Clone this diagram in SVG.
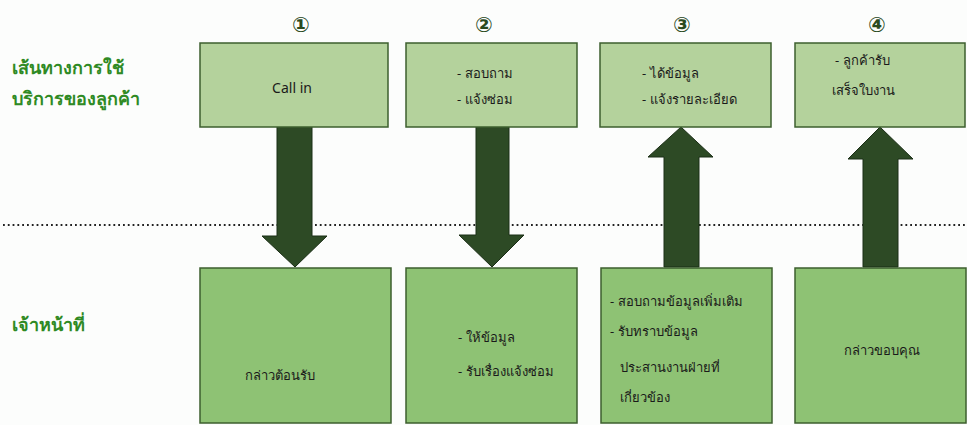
<svg xmlns="http://www.w3.org/2000/svg" width="967" height="425" viewBox="0 0 967 425">
<style>
.bg{fill:#fcfdfc}
.top{fill:#b4d29c;stroke:#3d5f2e;stroke-width:1.5}
.bot{fill:#8ec274;stroke:#3d5f2e;stroke-width:1.5}
.arr{fill:#2d4a25;stroke:#1b2e16;stroke-width:1}
.sep{stroke:#222;stroke-width:1.8;stroke-dasharray:1.8 3;fill:none}
.lbl{font-family:"Noto Sans","DejaVu Sans",sans-serif;font-weight:bold;font-size:18px;fill:#2f8a24}
.t{font-family:"Noto Sans","DejaVu Sans",sans-serif;font-size:13px;fill:#1a1a1a}
.num{font-family:"DejaVu Sans","Noto Sans CJK SC",sans-serif;font-weight:bold;font-size:21px;fill:#2a4a1e;text-anchor:middle}
.c{text-anchor:middle}
</style>
<rect class="bg" x="0" y="0" width="967" height="425"/>
<g id="connectors">
<line class="sep" x1="3" y1="225" x2="967" y2="225"/>
<polygon class="arr" points="277,126 312,126 312,236 327,236 295,267 262,236 277,236"/>
<polygon class="arr" points="476,126 509,126 509,235 524,235 492,267 459,235 476,235"/>
<polygon class="arr" points="664,267 699,267 699,157 713,157 681,127 648,157 664,157"/>
<polygon class="arr" points="863,267 898,267 898,159 913,159 880,127 848,159 863,159"/>
</g>
<g id="lane-customer">
<text class="lbl" x="12" y="74">เส้นทางการใช้</text>
<text class="lbl" x="12" y="105">บริการของลูกค้า</text>
</g>
<g id="lane-staff">
<text class="lbl" x="12" y="331">เจ้าหน้าที่</text>
</g>
<g id="step1">
<text class="num" x="301" y="32">①</text>
</g>
<g id="step2">
<text class="num" x="484" y="32">②</text>
</g>
<g id="step3">
<text class="num" x="682" y="32">③</text>
</g>
<g id="step4">
<text class="num" x="877" y="32">④</text>
</g>
<g id="c1">
<rect class="top" x="200" y="43" width="188" height="84"/>
<text class="t c" x="292" y="93" style="font-size:14px">Call in</text>
</g>
<g id="c2">
<rect class="top" x="406" y="43" width="171" height="84"/>
<text class="t" x="457" y="78">- สอบถาม</text>
<text class="t" x="457" y="104">- แจ้งซ่อม</text>
</g>
<g id="c3">
<rect class="top" x="600" y="43" width="171" height="84"/>
<text class="t" x="642" y="78">- ได้ข้อมูล</text>
<text class="t" x="642" y="104">- แจ้งรายละเอียด</text>
</g>
<g id="c4">
<rect class="top" x="795" y="43" width="170" height="84"/>
<text class="t" x="835" y="65">- ลูกค้ารับ</text>
<text class="t" x="832" y="95">เสร็จใบงาน</text>
</g>
<g id="s1">
<rect class="bot" x="200" y="268" width="191" height="155"/>
<text class="t c" x="280" y="380">กล่าวต้อนรับ</text>
</g>
<g id="s2">
<rect class="bot" x="406" y="268" width="171" height="155"/>
<text class="t" x="458" y="342">- ให้ข้อมูล</text>
<text class="t" x="458" y="376">- รับเรื่องแจ้งซ่อม</text>
</g>
<g id="s3">
<rect class="bot" x="601" y="268" width="171" height="155"/>
<text class="t" x="610" y="306">- สอบถามข้อมูลเพิ่มเติม</text>
<text class="t" x="610" y="336">- รับทราบข้อมูล</text>
<text class="t" x="620" y="372">ประสานงานฝ่ายที่</text>
<text class="t" x="620" y="402">เกี่ยวข้อง</text>
</g>
<g id="s4">
<rect class="bot" x="795" y="268" width="171" height="155"/>
<text class="t c" x="882" y="355">กล่าวขอบคุณ</text>
</g>
</svg>
